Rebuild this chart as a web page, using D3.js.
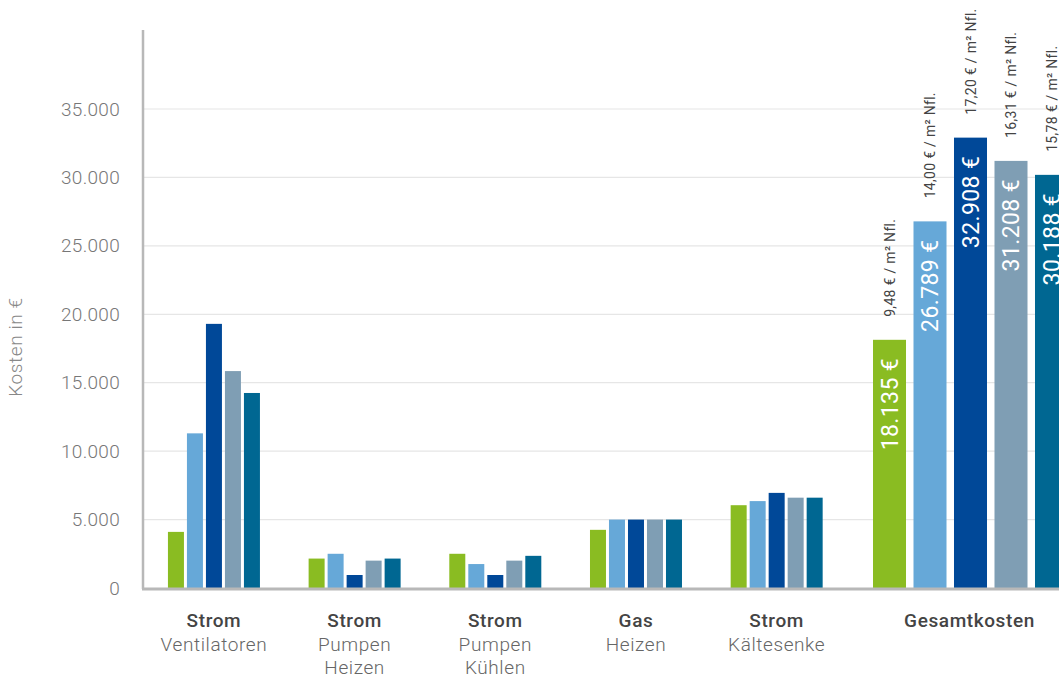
<!DOCTYPE html>
<html><head><meta charset="utf-8">
<script src="https://cdn.jsdelivr.net/npm/d3@7"></script>
<style>
html,body{margin:0;padding:0;background:#fff;}
svg{display:block;font-family:Roboto, "Noto Sans", sans-serif;}
</style></head>
<body>
<svg id="chart" width="1059" height="681"></svg>
<script>
// ---- data ----
const categoryTitles = ["Strom", "Strom", "Strom", "Gas", "Strom"];
const categorySubtitles = [["Ventilatoren"], ["Pumpen", "Heizen"], ["Pumpen", "Kühlen"], ["Heizen"], ["Kältesenke"]];
const totalTitle = "Gesamtkosten";
const seriesKeys = ["V1", "V2", "V3", "V4", "V5"];
const seriesColors = ["#8abc22", "#66a8d8", "#004898", "#7f9eb4", "#006792"];
const valuesV1 = [4100, 2150, 2500, 4250, 6050];
const valuesV2 = [11300, 2500, 1750, 5000, 6350];
const valuesV3 = [19300, 950, 950, 5000, 6950];
const valuesV4 = [15850, 2000, 2000, 5000, 6600];
const valuesV5 = [14250, 2150, 2350, 5000, 6600];
const totals = [18135, 26789, 32908, 31208, 30188];
const totalLabels = ["18.135 €", "26.789 €", "32.908 €", "31.208 €", "30.188 €"];
const perAreaLabels = ["9,48 € / m² Nfl.", "14,00 € / m² Nfl.", "17,20 € / m² Nfl.", "16,31 € / m² Nfl.", "15,78 € / m² Nfl."];
const yTicks = [0, 5000, 10000, 15000, 20000, 25000, 30000, 35000];
const yTickLabels = ["0", "5.000", "10.000", "15.000", "20.000", "25.000", "30.000", "35.000"];
const yTitle = "Kosten in €";

const seriesValues = [valuesV1, valuesV2, valuesV3, valuesV4, valuesV5];

// ---- layout ----
const W = 1059, H = 681;
const svg = d3.select("#chart");
const axisX = 143, axisTop = 30;

const y = d3.scaleLinear().domain([0, 35000]).range([588, 109]);
const color = d3.scaleOrdinal().domain(seriesKeys).range(seriesColors);

const x0 = d3.scaleBand().domain(d3.range(categoryTitles.length)).range([143.6, 847]).paddingInner(0).paddingOuter(0);
const x1 = d3.scaleBand().domain(seriesKeys).range([0, 92]).paddingInner(0.158).paddingOuter(0);
const xt = d3.scaleBand().domain(seriesKeys).range([873, 1068]).paddingInner(0.185).paddingOuter(0);

// gridlines
svg.append("g").selectAll("line").data(yTicks.filter(d => d > 0)).join("line")
  .attr("x1", axisX).attr("x2", W)
  .attr("y1", d => y(d)).attr("y2", d => y(d))
  .attr("stroke", "#e6e6e6").attr("stroke-width", 1.2);

// y tick labels via axis
const yAxis = d3.axisLeft(y).tickValues(yTicks).tickSize(0).tickPadding(0)
  .tickFormat((d, i) => yTickLabels[i]);
const gy = svg.append("g").attr("transform", `translate(120,0)`).call(yAxis);
gy.select(".domain").remove();
gy.selectAll("text").attr("font-size", 19).attr("font-weight", 300).attr("fill", "#777")
  .attr("letter-spacing", 0.3).attr("font-family", "Roboto, sans-serif");

// y title
svg.append("text").attr("transform", `translate(22,347) rotate(-90)`)
  .attr("text-anchor", "middle").attr("font-size", 19).attr("font-weight", 300)
  .attr("letter-spacing", 0.6).attr("fill", "#888").text(yTitle);

// grouped bars
const groups = svg.append("g").selectAll("g").data(categoryTitles.map((c, i) => i)).join("g")
  .attr("transform", i => `translate(${x0(i) + x0.bandwidth() / 2 - 46},0)`);
groups.selectAll("rect").data(i => seriesKeys.map((k, s) => ({k, v: seriesValues[s][i]}))).join("rect")
  .attr("x", d => x1(d.k)).attr("width", x1.bandwidth())
  .attr("y", d => y(d.v)).attr("height", d => y(0) - y(d.v))
  .attr("fill", d => color(d.k));

// total bars
const tData = seriesKeys.map((k, s) => ({k, v: totals[s], lab: totalLabels[s], pa: perAreaLabels[s]}));
svg.append("g").selectAll("rect").data(tData).join("rect")
  .attr("x", d => xt(d.k)).attr("width", xt.bandwidth())
  .attr("y", d => y(d.v)).attr("height", d => y(0) - y(d.v))
  .attr("fill", d => color(d.k));
svg.append("g").selectAll("text").data(tData).join("text")
  .attr("transform", d => `translate(${xt(d.k) + xt.bandwidth() / 2},${y(d.v) + 18}) rotate(-90)`)
  .attr("text-anchor", "end").attr("dy", "0.36em").attr("letter-spacing", 0.4)
  .attr("font-size", 23).attr("fill", "#fff").text(d => d.lab);
svg.append("g").selectAll("text").data(tData).join("text")
  .attr("transform", d => `translate(${xt(d.k) + xt.bandwidth() / 2},${y(d.v) - 23}) rotate(-90)`)
  .attr("text-anchor", "start").attr("dy", "0.36em").attr("letter-spacing", 0.3)
  .attr("font-size", 14).attr("fill", "#444").text(d => d.pa);

// axes lines
svg.append("line").attr("x1", axisX).attr("x2", axisX).attr("y1", axisTop).attr("y2", 589)
  .attr("stroke", "#b8b8b8").attr("stroke-width", 2.5);
svg.append("line").attr("x1", axisX - 1).attr("x2", W).attr("y1", 589).attr("y2", 589)
  .attr("stroke", "#b8b8b8").attr("stroke-width", 3);

// category labels
const lab = svg.append("g").selectAll("text").data(categoryTitles.map((c, i) => i)).join("text")
  .attr("text-anchor", "middle").attr("font-size", 19).attr("fill", "#666")
  .attr("letter-spacing", 0.6)
  .attr("x", i => x0(i) + x0.bandwidth() / 2);
lab.append("tspan").attr("x", i => x0(i) + x0.bandwidth() / 2).attr("y", 627)
  .attr("font-weight", 500).attr("fill", "#444").text(i => categoryTitles[i]);
lab.each(function(i) {
  const t = d3.select(this);
  categorySubtitles[i].forEach((s, j) => {
    t.append("tspan").attr("x", x0(i) + x0.bandwidth() / 2).attr("y", 651 + j * 23)
      .attr("font-weight", 300).text(s);
  });
});
svg.append("text").attr("x", (xt.range()[0] + xt.range()[1]) / 2 - 1).attr("y", 627)
  .attr("text-anchor", "middle").attr("font-size", 19).attr("font-weight", 500)
  .attr("letter-spacing", 0.6).attr("fill", "#444").text(totalTitle);
</script>
</body></html>
